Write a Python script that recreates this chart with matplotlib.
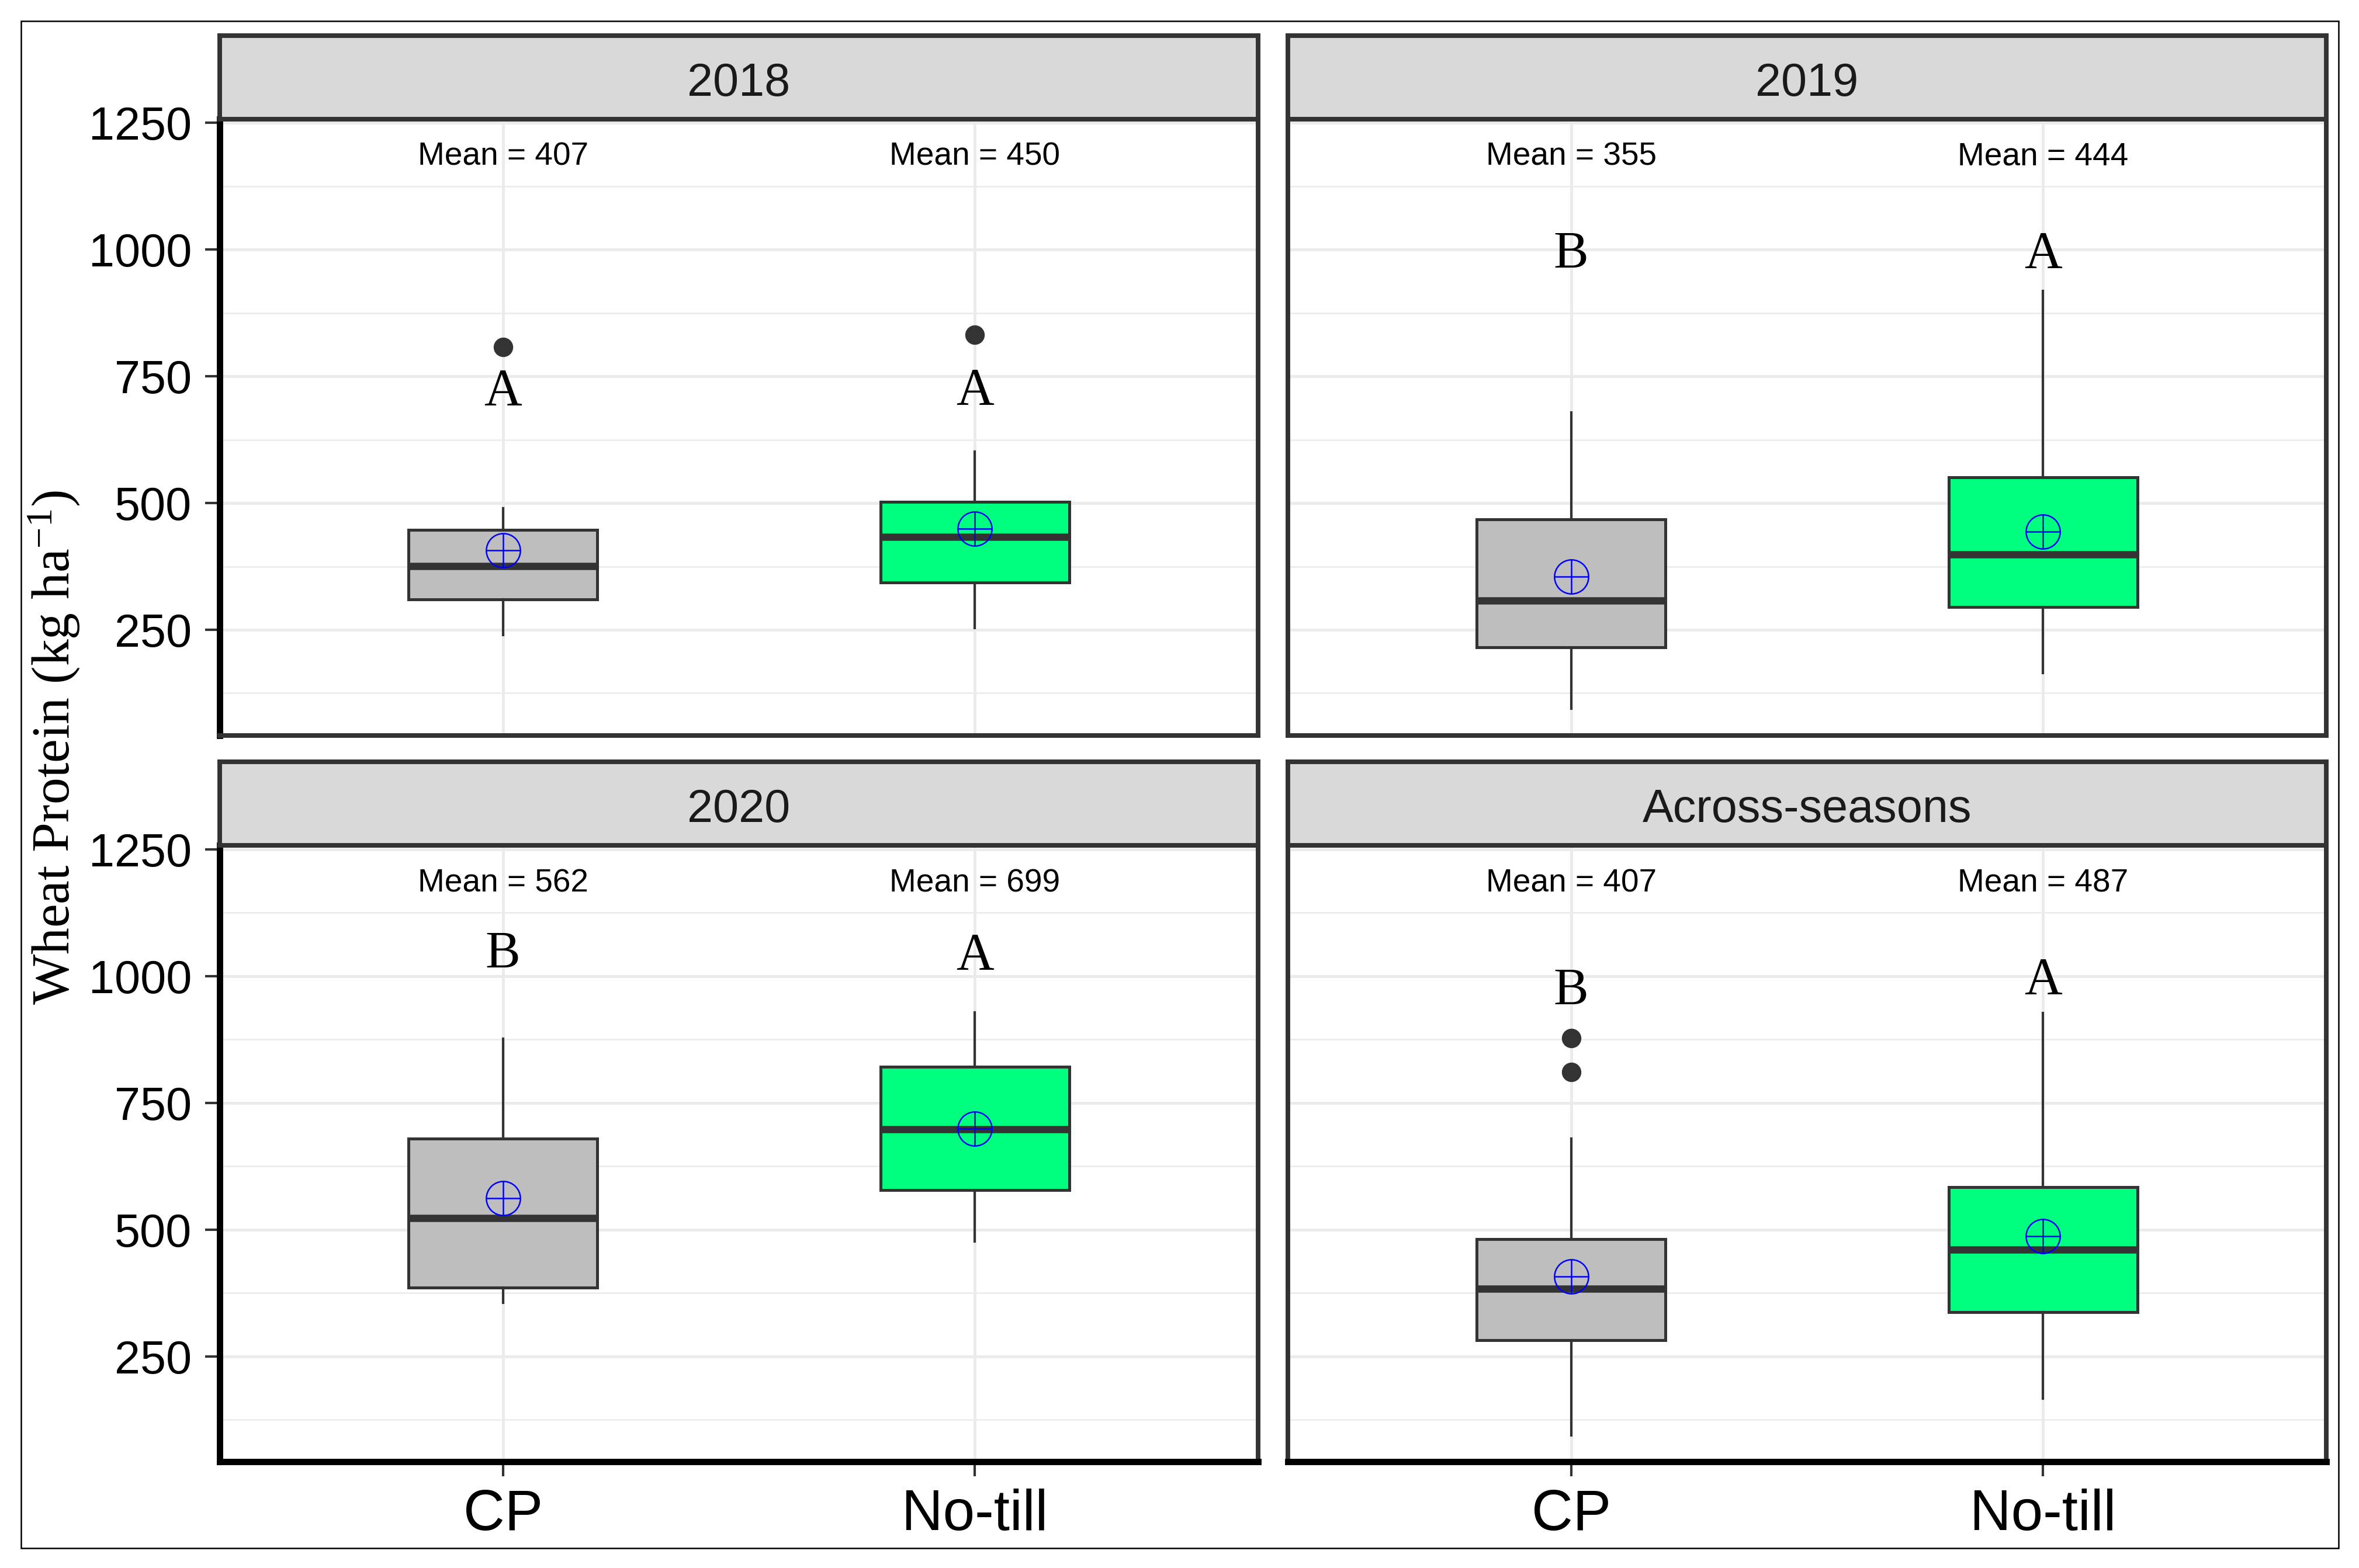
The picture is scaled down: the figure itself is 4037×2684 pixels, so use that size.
import matplotlib
matplotlib.use("Agg")
import matplotlib.pyplot as plt
from matplotlib.patches import Rectangle

plt.rcParams['font.family'] = ['Liberation Sans', 'DejaVu Sans']
plt.rcParams['mathtext.fontset'] = 'custom'
plt.rcParams['mathtext.rm'] = 'Liberation Serif'
plt.rcParams['mathtext.it'] = 'Liberation Serif:italic'

# ---------------- data ----------------
panels = ["2018", "2019", "2020", "Across-seasons"]
treatments = ["CP", "No-till"]
fills = ["#BEBEBE", "#00FF7F"]

# per panel: [CP, No-till]
whis_lo = [[240, 253], [94, 165], [355, 476], [94, 166]]
q1 = [[310, 343], [216, 295], [385, 578], [282, 337]]
median = [[376, 433], [308, 399], [523, 698], [383, 460]]
q3 = [[447, 503], [468, 551], [679, 821], [481, 584]]
whis_hi = [[490, 602], [679, 919], [876, 928], [679, 927]]
fliers = [[[808], [832]], [[], []], [[], []], [[811, 878], []]]
means = [[407, 450], [355, 444], [562, 699], [407, 487]]
letters = [["A", "A"], ["B", "A"], ["B", "A"], ["B", "A"]]
letter_y = [[718, 720], [989, 989], [1042, 1038], [969, 990]]
mean_label_y = 1183

y_ticks = [250, 500, 750, 1000, 1250]
y_minor = [125, 375, 625, 875, 1125]
ylim = (42, 1258)

# ---------------- figure ----------------
W, H = 4037, 2684
dpi = 300
fig = plt.figure(figsize=(W / dpi, H / dpi), dpi=dpi)

def fx(px):
    return px / W

def fy(py):
    return 1 - py / H

col_x = [376, 2204]
panel_w = 1777
row_top = [203.5, 1447]
panel_h = 1055
strip_h = 143

for i, name in enumerate(panels):
    r, c = divmod(i, 2)
    x0 = col_x[c]
    top = row_top[r]
    ax = fig.add_axes([fx(x0), fy(top + panel_h), panel_w / W, panel_h / H])
    ax.set_xlim(0.4, 2.6)
    ax.set_ylim(*ylim)
    ax.set_axisbelow(True)

    stats = []
    for j in range(2):
        stats.append(dict(med=median[i][j], q1=q1[i][j], q3=q3[i][j],
                          whislo=whis_lo[i][j], whishi=whis_hi[i][j],
                          fliers=fliers[i][j], label=treatments[j]))
    bp = ax.bxp(stats, positions=[1, 2], widths=0.4, patch_artist=True,
                showcaps=False, showfliers=True,
                boxprops=dict(edgecolor='#333333', linewidth=1.2),
                medianprops=dict(color='#333333', linewidth=3.0, solid_capstyle='butt'),
                whiskerprops=dict(color='#333333', linewidth=1.0),
                flierprops=dict(marker='o', markerfacecolor='#333333',
                                markeredgecolor='#333333', markersize=7))
    for patch, fc in zip(bp['boxes'], fills):
        patch.set_facecolor(fc)

    # mean markers (circle with plus)
    ax.plot([1, 2], means[i], linestyle='none', marker='o', markersize=14,
            markerfacecolor='none', markeredgecolor='#0000FF', markeredgewidth=0.6, zorder=5)
    ax.plot([1, 2], means[i], linestyle='none', marker='+', markersize=14,
            markeredgecolor='#0000FF', markeredgewidth=0.6, zorder=5)

    for j in range(2):
        ax.text(j + 1, mean_label_y, f"Mean = {means[i][j]}", ha='center', va='center',
                fontsize=13.2, color='black')
        ax.text(j + 1, letter_y[i][j], letters[i][j], ha='center', va='center',
                fontsize=21.5, family='Liberation Serif', color='black')

    # grid
    ax.set_yticks(y_ticks)
    ax.set_yticks(y_minor, minor=True)
    ax.set_xticks([1, 2])
    ax.grid(which='major', color='#EBEBEB', linewidth=1.2)
    ax.grid(which='minor', axis='y', color='#EBEBEB', linewidth=0.6)
    ax.tick_params(which='minor', length=0)

    for s in ax.spines.values():
        s.set_color('#333333')
        s.set_linewidth(1.9)

    if c == 0:
        ax.spines['left'].set_color('black')
        ax.spines['left'].set_linewidth(2.6)
        ax.tick_params(axis='y', length=6, width=1, color='#333333', labelsize=19,
                       labelcolor='black', pad=5.5)
    else:
        ax.tick_params(axis='y', length=0, labelleft=False)

    if r == 1:
        ax.spines['bottom'].set_color('black')
        ax.spines['bottom'].set_linewidth(2.6)
        ax.set_xticklabels(treatments)
        ax.tick_params(axis='x', length=6, width=1, color='#333333', labelsize=23.5,
                       labelcolor='black', pad=5)
    else:
        ax.tick_params(axis='x', length=0, labelbottom=False)

    # strip
    sax = fig.add_axes([fx(x0), fy(top), panel_w / W, strip_h / H])
    sax.set_facecolor('#D9D9D9')
    sax.set_xticks([])
    sax.set_yticks([])
    for s in sax.spines.values():
        s.set_color('#333333')
        s.set_linewidth(1.9)
    sax.text(0.5, 0.42, name, transform=sax.transAxes, ha='center', va='center',
             fontsize=19, color='#1A1A1A')

fig.text(fx(93), fy(1280), r"Wheat Protein (kg ha$^{\mathrm{-1}}$)", rotation=90,
         ha='center', va='center', fontsize=22, family='Liberation Serif', color='black')

fig.add_artist(Rectangle((fx(36), fy(2650)), (4002 - 36) / W, (2650 - 36) / H,
                         transform=fig.transFigure, fill=False, lw=0.6, ec='black'))

fig.savefig("out.png", dpi=dpi)
